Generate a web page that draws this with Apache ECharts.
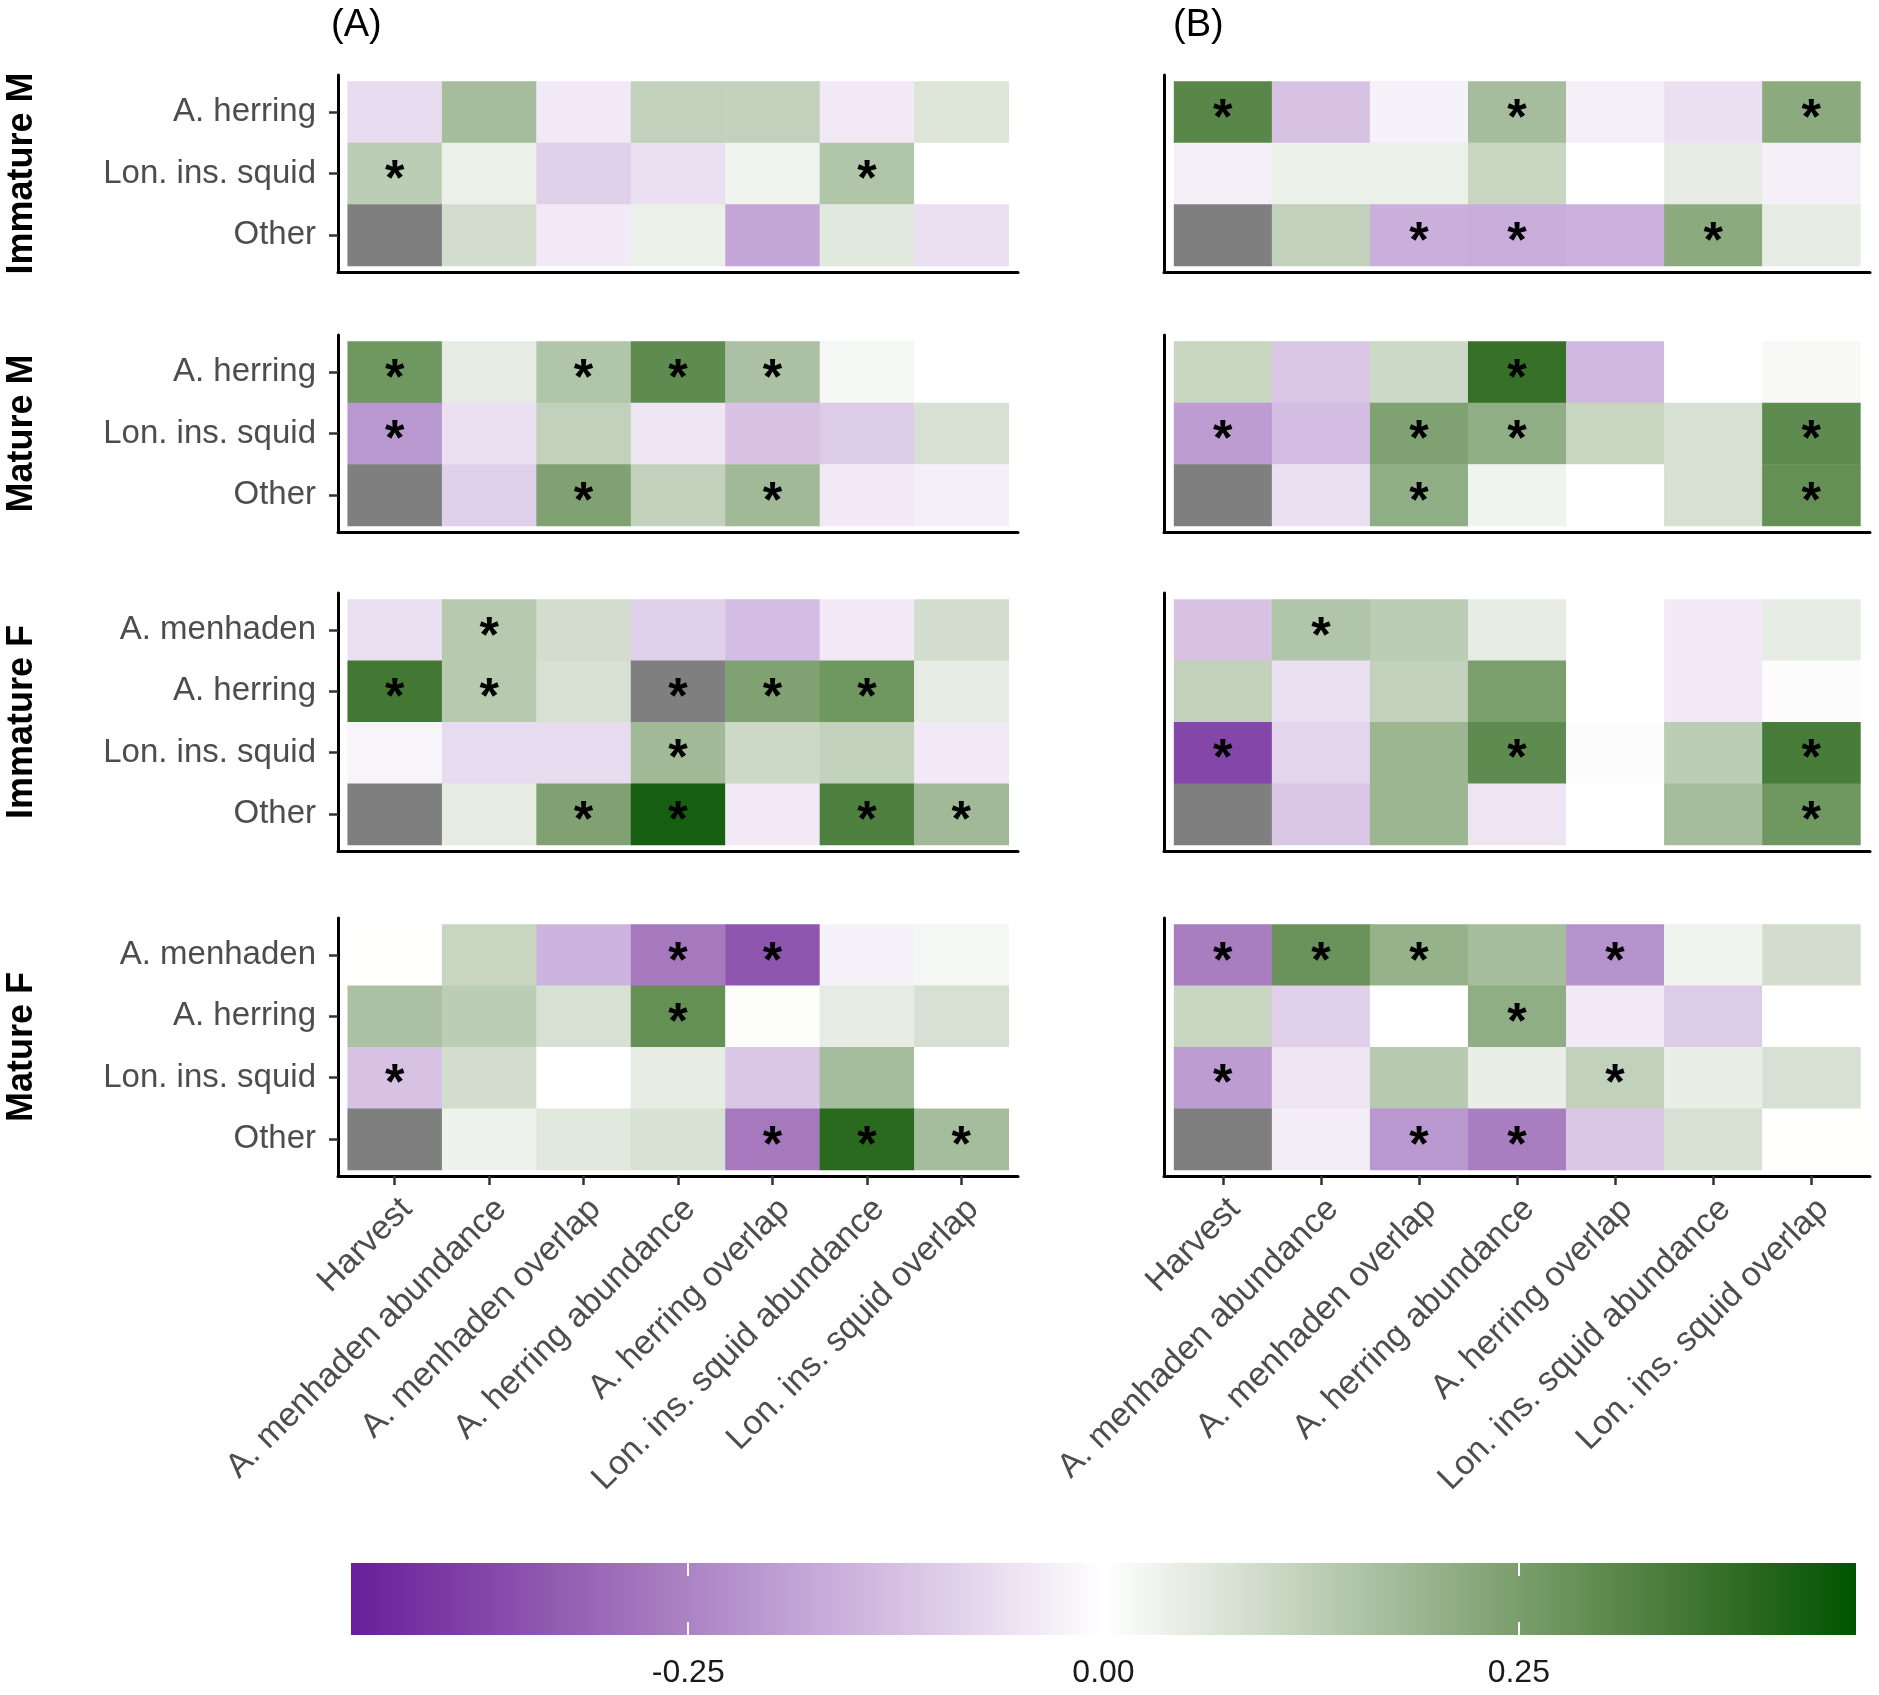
<!DOCTYPE html>
<html>
<head>
<meta charset="utf-8">
<script src="https://cdn.jsdelivr.net/npm/echarts@6/dist/echarts.min.js"></script>
<style>
  html, body { margin: 0; padding: 0; background: #fff; }
  #chart { width: 1879px; height: 1695px; }
</style>
</head>
<body>
<div id="chart"></div>
<script>
// predictors on the x axis (same for both columns)
const predictors = [
  'Harvest',
  'A. menhaden abundance',
  'A. menhaden overlap',
  'A. herring abundance',
  'A. herring overlap',
  'Lon. ins. squid abundance',
  'Lon. ins. squid overlap'
];
const stages = ['Immature M', 'Mature M', 'Immature F', 'Mature F'];
const columns = ['(A)', '(B)'];

// prey rows per stage
const preyImmM = ['A. herring', 'Lon. ins. squid', 'Other'];
const preyMatM = ['A. herring', 'Lon. ins. squid', 'Other'];
const preyImmF = ['A. menhaden', 'A. herring', 'Lon. ins. squid', 'Other'];
const preyMatF = ['A. menhaden', 'A. herring', 'Lon. ins. squid', 'Other'];

// (A) correlations, null = NA (grey)
const immM_A = [
  [-0.07, 0.17, -0.04, 0.12, 0.12, -0.04, 0.07],
  [0.13, 0.04, -0.09, -0.06, 0.03, 0.15, 0.0],
  [null, 0.09, -0.04, 0.04, -0.18, 0.06, -0.06]
];
const immM_A_sig = [
  [0, 0, 0, 0, 0, 0, 0],
  [1, 0, 0, 0, 0, 1, 0],
  [0, 0, 0, 0, 0, 0, 0]
];
const matM_A = [
  [0.27, 0.05, 0.15, 0.30, 0.16, 0.02, 0.0],
  [-0.21, -0.06, 0.12, -0.05, -0.12, -0.10, 0.08],
  [null, -0.09, 0.24, 0.12, 0.18, -0.04, -0.03]
];
const matM_A_sig = [
  [1, 0, 1, 1, 1, 0, 0],
  [1, 0, 0, 0, 0, 0, 0],
  [0, 0, 1, 0, 1, 0, 0]
];
const immF_A = [
  [-0.06, 0.14, 0.09, -0.09, -0.13, -0.04, 0.09],
  [0.35, 0.14, 0.08, null, 0.24, 0.27, 0.05],
  [-0.02, -0.07, -0.07, 0.18, 0.10, 0.12, -0.04],
  [null, 0.05, 0.24, 0.42, -0.04, 0.33, 0.18]
];
const immF_A_sig = [
  [0, 1, 0, 0, 0, 0, 0],
  [1, 1, 0, 1, 1, 1, 0],
  [0, 0, 0, 1, 0, 0, 0],
  [0, 0, 1, 1, 0, 1, 1]
];
const matF_A = [
  [0.003, 0.11, -0.15, -0.27, -0.34, -0.025, 0.02],
  [0.16, 0.13, 0.08, 0.29, 0.005, 0.05, 0.08],
  [-0.12, 0.09, 0.0, 0.05, -0.11, 0.17, 0.0],
  [null, 0.035, 0.06, 0.08, -0.27, 0.39, 0.17]
];
const matF_A_sig = [
  [0, 0, 0, 1, 1, 0, 0],
  [0, 0, 0, 1, 0, 0, 0],
  [1, 0, 0, 0, 0, 0, 0],
  [0, 0, 0, 0, 1, 1, 1]
];

// (B)
const immM_B = [
  [0.31, -0.12, -0.025, 0.17, -0.03, -0.06, 0.22],
  [-0.03, 0.04, 0.04, 0.11, 0.0, 0.05, -0.03],
  [null, 0.12, -0.16, -0.165, -0.155, 0.22, 0.05]
];
const immM_B_sig = [
  [1, 0, 0, 1, 0, 0, 1],
  [0, 0, 0, 0, 0, 0, 0],
  [0, 0, 1, 1, 0, 1, 0]
];
const matM_B = [
  [0.11, -0.11, 0.10, 0.37, -0.14, 0.0, 0.015],
  [-0.20, -0.13, 0.24, 0.21, 0.11, 0.08, 0.30],
  [null, -0.06, 0.21, 0.03, 0.0, 0.08, 0.29]
];
const matM_B_sig = [
  [0, 0, 0, 1, 0, 0, 0],
  [1, 0, 1, 1, 0, 0, 1],
  [0, 0, 1, 0, 0, 0, 1]
];
const immF_B = [
  [-0.12, 0.15, 0.13, 0.05, 0.0, -0.04, 0.05],
  [0.12, -0.06, 0.12, 0.25, 0.0, -0.04, 0.008],
  [-0.37, -0.08, 0.19, 0.30, 0.008, 0.13, 0.34],
  [null, -0.11, 0.19, -0.05, 0.0, 0.17, 0.27]
];
const immF_B_sig = [
  [0, 1, 0, 0, 0, 0, 0],
  [0, 0, 0, 0, 0, 0, 0],
  [1, 0, 0, 1, 0, 0, 1],
  [0, 0, 0, 0, 0, 0, 1]
];
const matF_B = [
  [-0.26, 0.28, 0.20, 0.17, -0.22, 0.03, 0.09],
  [0.11, -0.09, 0.0, 0.21, -0.04, -0.10, 0.0],
  [-0.20, -0.05, 0.14, 0.045, 0.12, 0.045, 0.08],
  [null, -0.035, -0.21, -0.26, -0.11, 0.08, 0.003]
];
const matF_B_sig = [
  [1, 1, 1, 0, 1, 0, 0],
  [0, 0, 0, 1, 0, 0, 0],
  [1, 0, 0, 0, 1, 0, 0],
  [0, 0, 1, 1, 0, 0, 0]
];

// colour bar
const colorTicks = [-0.25, 0, 0.25];
const colorLimits = [-0.453, 0.453];

// ---- styling / layout ----
const FONT = '"Liberation Sans", Arial, sans-serif';
const fillStops = ['#681e9a', '#874baa', '#a578be', '#c3a5d7', '#e0d0ea', '#ffffff',
                   '#d2ddcd', '#a0b996', '#6e965f', '#3c732d', '#005400'];
const naColor = '#7f7f7f';
const colBox = [{ left: 338, width: 680 }, { left: 1164, width: 706 }];
const rowBox = [{ top: 75, height: 197 }, { top: 335, height: 197 },
                { top: 593, height: 258 }, { top: 918, height: 258 }];

const panels = [
  { vals: immM_A, sig: immM_A_sig, prey: preyImmM, col: 0, row: 0 },
  { vals: matM_A, sig: matM_A_sig, prey: preyMatM, col: 0, row: 1 },
  { vals: immF_A, sig: immF_A_sig, prey: preyImmF, col: 0, row: 2 },
  { vals: matF_A, sig: matF_A_sig, prey: preyMatF, col: 0, row: 3 },
  { vals: immM_B, sig: immM_B_sig, prey: preyImmM, col: 1, row: 0 },
  { vals: matM_B, sig: matM_B_sig, prey: preyMatM, col: 1, row: 1 },
  { vals: immF_B, sig: immF_B_sig, prey: preyImmF, col: 1, row: 2 },
  { vals: matF_B, sig: matF_B_sig, prey: preyMatF, col: 1, row: 3 }
];

const xIdx = predictors.map((_, i) => i);

function renderTile(params, api) {
  const x = api.value(0), y = api.value(1), v = api.value(2);
  const p0 = api.coord([x - 0.5, y - 0.5]);
  const p1 = api.coord([x + 0.5, y + 0.5]);
  const rx = Math.min(p0[0], p1[0]), ry = Math.min(p0[1], p1[1]);
  const w = Math.abs(p1[0] - p0[0]), h = Math.abs(p1[1] - p0[1]);
  const children = [{
    type: 'rect',
    shape: { x: rx, y: ry, width: w + 0.5, height: h + 0.5 },
    style: { fill: isNaN(v) ? naColor : api.visual('color') }
  }];
  if (api.value(3) === 1) {
    children.push({
      type: 'text',
      style: {
        text: '*', x: rx + w / 2, y: ry + h / 2 + 8,
        align: 'center', verticalAlign: 'middle',
        fontSize: 50, fontWeight: 'bold', fontFamily: FONT, fill: '#000'
      }
    });
  }
  return { type: 'group', children };
}

const grid = [], xAxis = [], yAxis = [], series = [];

panels.forEach((p, i) => {
  const isBottom = p.row === 3;
  const isLeft = p.col === 0;
  grid.push({ left: colBox[p.col].left, width: colBox[p.col].width,
              top: rowBox[p.row].top, height: rowBox[p.row].height });
  xAxis.push({
    gridIndex: i, type: 'value', min: -0.6, max: 6.6,
    splitLine: { show: false },
    axisLine: { onZero: false, lineStyle: { color: '#000', width: 3 } },
    axisTick: { show: isBottom, customValues: xIdx, length: 9,
                lineStyle: { color: '#333', width: 2.5 } },
    axisLabel: {
      show: isBottom, customValues: xIdx, rotate: 45, margin: 16,
      align: 'right', verticalAlign: 'top',
      fontSize: 34, color: '#4d4d4d', fontFamily: FONT,
      formatter: v => predictors[Math.round(v)]
    }
  });
  const yIdx = p.prey.map((_, k) => k);
  yAxis.push({
    gridIndex: i, type: 'value', inverse: true,
    min: -0.6, max: p.prey.length - 0.4,
    splitLine: { show: false },
    axisLine: { onZero: false, lineStyle: { color: '#000', width: 3 } },
    axisTick: { show: isLeft, customValues: yIdx, length: 9,
                lineStyle: { color: '#333', width: 2.5 } },
    axisLabel: {
      show: isLeft, customValues: yIdx, margin: 22,
      fontSize: 33, color: '#4d4d4d', fontFamily: FONT,
      formatter: v => p.prey[Math.round(v)]
    },
    name: isLeft ? stages[p.row] : '',
    nameLocation: 'middle', nameRotate: 90, nameGap: 298,
    nameTextStyle: { fontSize: 36, fontWeight: 'bold', color: '#000', fontFamily: FONT }
  });
  const data = [];
  p.vals.forEach((rowVals, r) => {
    rowVals.forEach((v, c) => { data.push([c, r, v, p.sig[r][c]]); });
  });
  series.push({
    type: 'custom', xAxisIndex: i, yAxisIndex: i,
    renderItem: renderTile, data: data, clip: false,
    encode: { x: 0, y: 1 }
  });
});

// colour bar
const barIdx = panels.length;
grid.push({ left: 351, width: 1505, top: 1563, height: 72 });
const barTick = { show: true, inside: true, customValues: colorTicks, length: 13,
                  lineStyle: { color: '#fff', width: 2 } };
xAxis.push({
  gridIndex: barIdx, type: 'value', min: colorLimits[0], max: colorLimits[1], z: 10,
  splitLine: { show: false }, axisLine: { show: false }, axisTick: barTick,
  axisLabel: { customValues: colorTicks, margin: 22, fontSize: 32, color: '#1a1a1a',
               fontFamily: FONT, formatter: v => v.toFixed(2) }
});
xAxis.push({
  gridIndex: barIdx, type: 'value', position: 'top', min: colorLimits[0], max: colorLimits[1], z: 10,
  splitLine: { show: false }, axisLine: { show: false }, axisTick: barTick,
  axisLabel: { show: false }
});
yAxis.push({ gridIndex: barIdx, type: 'value', min: 0, max: 1, show: false });
series.push({
  type: 'custom', xAxisIndex: panels.length, yAxisIndex: barIdx, z: 1,
  data: [[colorLimits[0], colorLimits[1]]],
  encode: { x: [0, 1] },
  renderItem: (params, api) => {
    const a = api.coord([api.value(0), 0]);
    const b = api.coord([api.value(1), 1]);
    return {
      type: 'rect',
      shape: { x: a[0], y: b[1], width: b[0] - a[0], height: a[1] - b[1] },
      style: {
        fill: new echarts.graphic.LinearGradient(0, 0, 1, 0,
          fillStops.map((c, k) => ({ offset: k / (fillStops.length - 1), color: c })))
      }
    };
  }
});

const chart = echarts.init(document.getElementById('chart'));
chart.setOption({
  animation: false,
  backgroundColor: '#fff',
  title: [
    { text: columns[0], left: 326, top: 2,
      textStyle: { fontSize: 38, fontWeight: 'normal', color: '#000', fontFamily: FONT } },
    { text: columns[1], left: 1168, top: 2,
      textStyle: { fontSize: 38, fontWeight: 'normal', color: '#000', fontFamily: FONT } }
  ],
  visualMap: {
    type: 'continuous', show: false, dimension: 2,
    seriesIndex: panels.map((_, i) => i),
    min: colorLimits[0], max: colorLimits[1],
    inRange: { color: fillStops }
  },
  grid, xAxis, yAxis, series
});
</script>
</body>
</html>
